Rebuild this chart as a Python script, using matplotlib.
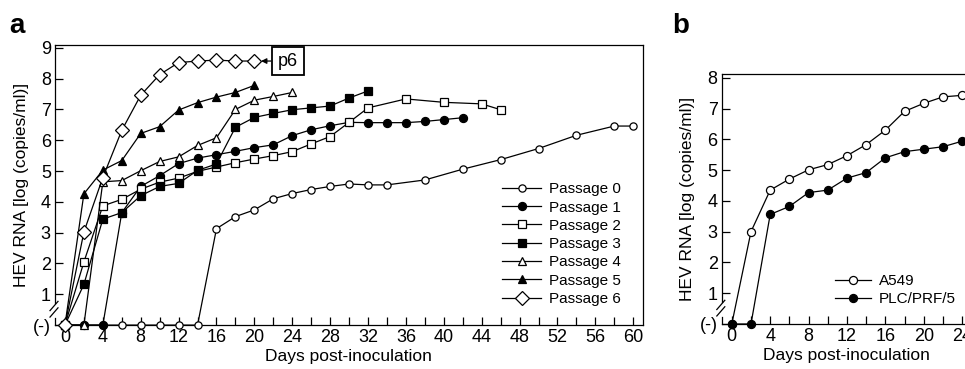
import numpy as np
import matplotlib
matplotlib.use("Agg")
import matplotlib.pyplot as plt
import matplotlib.transforms as mtransforms

plt.rcParams['font.family'] = ['Liberation Sans', 'DejaVu Sans']

# ---- panel a data (day, log copies/ml); 0 = not detected "(-)"
p0_days = [0, 2, 4, 6, 8, 10, 12, 14, 16, 18, 20, 22, 24, 26, 28, 30, 32, 34, 38, 42, 46, 50, 54, 58, 60]
p0_vals = [0, 0, 0, 0, 0, 0, 0, 0, 3.13, 3.52, 3.74, 4.1, 4.27, 4.4, 4.5, 4.58, 4.55, 4.55, 4.71, 5.06, 5.37, 5.73, 6.16, 6.46, 6.46]

p1_days = [0, 2, 4, 6, 8, 10, 12, 14, 16, 18, 20, 22, 24, 26, 28, 30, 32, 34, 36, 38, 40, 42]
p1_vals = [0, 0, 0, 3.65, 4.5, 4.85, 5.24, 5.42, 5.53, 5.64, 5.76, 5.85, 6.15, 6.34, 6.47, 6.58, 6.57, 6.57, 6.57, 6.61, 6.67, 6.73]

p2_days = [0, 2, 4, 6, 8, 10, 12, 14, 16, 18, 20, 22, 24, 26, 28, 30, 32, 36, 40, 44, 46]
p2_vals = [0, 2.05, 3.87, 4.08, 4.41, 4.64, 4.77, 4.99, 5.13, 5.27, 5.39, 5.5, 5.63, 5.88, 6.12, 6.58, 7.05, 7.34, 7.23, 7.18, 6.99]

p3_days = [0, 2, 4, 6, 8, 10, 12, 14, 16, 18, 20, 22, 24, 26, 28, 30, 32]
p3_vals = [0, 1.32, 3.44, 3.65, 4.2, 4.5, 4.6, 5.02, 5.23, 6.42, 6.74, 6.87, 6.99, 7.05, 7.11, 7.37, 7.6]

p4_days = [0, 2, 4, 6, 8, 10, 12, 14, 16, 18, 20, 22, 24]
p4_vals = [0, 0, 4.65, 4.69, 5.01, 5.31, 5.46, 5.83, 6.08, 7.0, 7.3, 7.42, 7.55]

p5_days = [0, 2, 4, 6, 8, 10, 12, 14, 16, 18, 20]
p5_vals = [0, 4.26, 5.03, 5.34, 6.22, 6.44, 6.98, 7.22, 7.4, 7.55, 7.78]

p6_days = [0, 2, 4, 6, 8, 10, 12, 14, 16, 18, 20]
p6_vals = [0, 3.02, 4.79, 6.32, 7.46, 8.13, 8.52, 8.57, 8.6, 8.57, 8.57]

# ---- panel b data
b_days = [0, 2, 4, 6, 8, 10, 12, 14, 16, 18, 20, 22, 24]
a549_vals = [0, 3.0, 4.35, 4.71, 5.01, 5.18, 5.47, 5.83, 6.3, 6.91, 7.17, 7.38, 7.43]
plc_vals = [0, 0, 3.56, 3.82, 4.27, 4.35, 4.74, 4.92, 5.4, 5.6, 5.68, 5.76, 5.94]

series_a = [
    ("Passage 0", p0_days, p0_vals, "o", "white", 5.2),
    ("Passage 1", p1_days, p1_vals, "o", "black", 5.8),
    ("Passage 2", p2_days, p2_vals, "s", "white", 5.2),
    ("Passage 3", p3_days, p3_vals, "s", "black", 5.6),
    ("Passage 4", p4_days, p4_vals, "^", "white", 6.2),
    ("Passage 5", p5_days, p5_vals, "^", "black", 6.2),
    ("Passage 6", p6_days, p6_vals, "D", "white", 7.5),
]

fig = plt.figure(figsize=(9.65, 3.69), dpi=100)
ax_a = fig.add_axes([0.057, 0.119, 0.609, 0.759])
ax_b = fig.add_axes([0.748, 0.122, 0.259, 0.678])


def style_axis(ax, xmin, xmax, ymax, xmaj, yticks):
    ax.set_xlim(xmin, xmax)
    ax.set_ylim(0, ymax)
    ax.set_xticks(np.arange(0, xmax, xmaj))
    ax.set_xticks(np.arange(0, xmax, xmaj / 2), minor=True)
    ax.set_yticks(yticks)
    ax.set_yticklabels(["(-)"] + [str(t) for t in yticks[1:]])
    ax.tick_params(which="both", direction="in", length=5.5, width=0.9,
                   labelsize=13, pad=3)
    for sp in ax.spines.values():
        sp.set_linewidth(0.9)
    # axis break on the y axis
    ax.spines["left"].set_bounds(0.72, ymax)
    trans = mtransforms.blended_transform_factory(ax.transAxes, ax.transData)
    ax.plot([0, 0], [0, 0.22], color="black", lw=0.9, transform=trans, clip_on=False)
    dx = 5.0 / (ax.get_position().width * 965)   # ~5 px in axes fraction
    for y0 in (0.26, 0.47):
        ax.plot([-dx, dx * 0.6], [y0, y0 + 0.3], color="black", lw=0.9,
                transform=trans, clip_on=False)
    ax.set_xlabel("Days post-inoculation", fontsize=12.5, labelpad=2)
    ax.set_ylabel("HEV RNA [log (copies/ml)]", fontsize=12.5, labelpad=3)


style_axis(ax_a, -1.05, 61.0, 9.09, 4, list(range(10)))
for label, d, v, m, fc, ms in series_a:
    ax_a.plot(d, v, marker=m, mfc=fc, mec="black", color="black", ms=ms,
              lw=0.9, mew=0.9, label=label, clip_on=False, zorder=3)

ax_a.annotate("p6", xy=(20.7, 8.57), xytext=(23.5, 8.57), fontsize=13,
              ha="center", va="center",
              bbox=dict(boxstyle="square,pad=0.33", fc="white", ec="black", lw=1.3),
              arrowprops=dict(arrowstyle="-|>", color="black", lw=0.9,
                              mutation_scale=8, shrinkA=0, shrinkB=0))

ax_a.legend(loc="upper left", bbox_to_anchor=(0.76, 0.51), frameon=False,
            fontsize=11, handlelength=2.6, handletextpad=0.5, labelspacing=0.28,
            borderpad=0, borderaxespad=0)

style_axis(ax_b, -1.04, 25.0, 8.13, 4, list(range(9)))
ax_b.plot(b_days, a549_vals, marker="o", mfc="white", mec="black", color="black",
          ms=5.8, lw=0.9, mew=0.9, label="A549", clip_on=False, zorder=3)
ax_b.plot(b_days, plc_vals, marker="o", mfc="black", mec="black", color="black",
          ms=5.8, lw=0.9, mew=0.9, label="PLC/PRF/5", clip_on=False, zorder=3)
ax_b.legend(loc="upper left", bbox_to_anchor=(0.452, 0.2), frameon=False,
            fontsize=11, handlelength=2.4, handletextpad=0.5, labelspacing=0.28,
            borderpad=0, borderaxespad=0)

fig.text(0.010, 0.91, "a", fontsize=20, fontweight="bold")
fig.text(0.697, 0.91, "b", fontsize=20, fontweight="bold")

fig.savefig("out.png", dpi=100)
